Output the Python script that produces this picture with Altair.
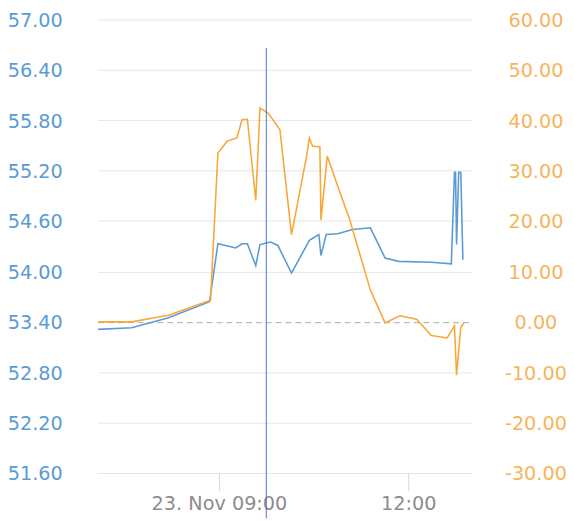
import altair as alt
import pandas as pd

DAY = "2023-11-23T"

orange_times = ["07:05", "07:37", "08:12", "08:52", "08:59", "09:08", "09:17", "09:22", "09:27",
                "09:35", "09:39", "09:47", "09:58", "10:09", "10:23", "10:26", "10:29", "10:36",
                "10:37", "10:43", "10:54", "11:04", "11:24", "11:38", "11:52", "12:08", "12:22",
                "12:37", "12:44", "12:46", "12:50", "12:53"]
orange_vals = [0.0, 0.0, 1.3, 4.3, 33.5, 35.9, 36.5, 40.1, 40.2, 24.1, 42.4, 41.4, 38.1, 17.3,
               32.5, 36.5, 34.9, 34.7, 20.2, 32.9, 26.3, 20.5, 6.3, -0.2, 1.2, 0.5, -2.7, -3.2,
               -0.8, -10.6, -1.1, -0.3]

blue_times = ["07:05", "07:37", "08:12", "08:51", "08:59", "09:16", "09:22", "09:27", "09:35",
              "09:39", "09:49", "09:56", "10:09", "10:26", "10:35", "10:37", "10:42", "10:53",
              "11:07", "11:24", "11:38", "11:51", "12:22", "12:41", "12:44", "12:45", "12:46",
              "12:48", "12:50", "12:52"]
blue_vals = [53.31, 53.33, 53.45, 53.64, 54.33, 54.28, 54.33, 54.33, 54.07, 54.32, 54.35, 54.31,
             53.98, 54.37, 54.44, 54.19, 54.44, 54.45, 54.50, 54.52, 54.16, 54.12, 54.11, 54.09,
             55.18, 55.18, 54.32, 55.18, 55.18, 54.14]

left_ticks = [51.6, 52.2, 52.8, 53.4, 54.0, 54.6, 55.2, 55.8, 56.4, 57.0]
right_ticks = [-30, -20, -10, 0, 10, 20, 30, 40, 50, 60]
marker_time = "09:45"

FONT = "DejaVu Sans"
FS = 19.5
BLUE = "#5b9bd5"
ORANGE = "#f8a838"

blue_df = pd.DataFrame({"t": [DAY + t + ":00" for t in blue_times], "v": blue_vals})
orange_df = pd.DataFrame({"t": [DAY + t + ":00" for t in orange_times], "v": orange_vals})
marker_df = pd.DataFrame({"t": [DAY + marker_time + ":00"]})

x_scale = alt.Scale(domain=[alt.DateTime(year=2023, month=11, date=23, hours=7, minutes=4, seconds=40),
                            alt.DateTime(year=2023, month=11, date=23, hours=13, minutes=1)])
x_axis = alt.Axis(
    title=None,
    values=[alt.DateTime(year=2023, month=11, date=23, hours=9),
            alt.DateTime(year=2023, month=11, date=23, hours=12)],
    labelExpr="hours(datum.value) == 9 ? '23. Nov 09:00' : timeFormat(datum.value, '%H:%M')",
    grid=False, domain=False, ticks=True, tickSize=18, tickColor="#ccd6eb",
    labelColor="#8c8c8c", labelFont=FONT, labelFontSize=FS, labelPadding=4,
    labelBaseline="top", labelFlush=False,
)

blue = alt.Chart(blue_df).mark_line(color=BLUE, strokeWidth=1.6, clip=True).encode(
    x=alt.X("t:T", scale=x_scale, axis=x_axis),
    y=alt.Y("v:Q", scale=alt.Scale(domain=[51.6, 57.0], nice=False, zero=False),
            axis=alt.Axis(title=None, orient="left", values=left_ticks, format=".2f",
                          grid=True, gridColor=alt.condition("abs(datum.value - 53.4) < 0.01",
                                                             alt.value("#aaaaaa"), alt.value("#e6e6e6")),
                          gridDash=alt.condition("abs(datum.value - 53.4) < 0.01",
                                                 alt.value([6, 4]), alt.value([])),
                          gridWidth=1,
                          domain=False, ticks=False, labelColor=BLUE, labelFont=FONT,
                          labelFontSize=FS, labelPadding=36, labelBaseline="middle",
                          labelOffset=1)),
)

orange = alt.Chart(orange_df).mark_line(color=ORANGE, strokeWidth=1.6, clip=True).encode(
    x=alt.X("t:T", scale=x_scale),
    y=alt.Y("v:Q", scale=alt.Scale(domain=[-30, 60], nice=False),
            axis=alt.Axis(title=None, orient="right", values=right_ticks,
                          labelExpr="replace(format(datum.value, '.2f'), '\u2212', '-')",
                          grid=False, domain=False, ticks=False, labelColor="#f7b45c",
                          labelFont=FONT, labelFontSize=FS, labelPadding=64,
                          labelAlign="center", labelBaseline="middle", labelOffset=1)),
)

marker = alt.Chart(marker_df).mark_rule(color="#4a72c8", strokeWidth=1).encode(
    x=alt.X("t:T", scale=x_scale),
    y=alt.value(29),
    y2=alt.value(506),
)

chart = alt.layer(blue, orange, marker).resolve_scale(y="independent").properties(
    width=380, height=460,
    autosize=alt.AutoSizeParams(type="none"),
    padding={"left": 91, "top": 8, "right": 95, "bottom": 45},
).configure_view(stroke=None)

chart.save("out.html", embed_options={"renderer": "svg", "actions": False})
